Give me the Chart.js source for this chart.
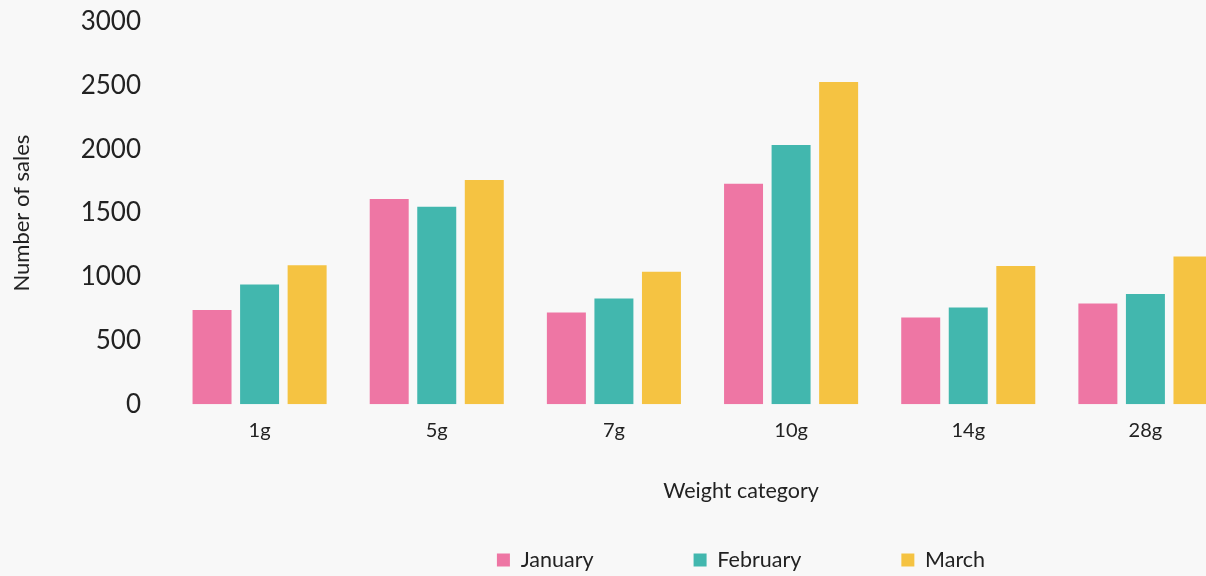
<!DOCTYPE html>
<html>
<head>
<meta charset="utf-8">
<title>Sales by weight category</title>
<script src="https://cdn.jsdelivr.net/npm/chart.js@4/dist/chart.umd.min.js"></script>
<style>
    html, body {
        margin: 0;
        padding: 0;
        background: #f8f8f8;
        overflow: hidden;
    }
    #wrap {
        width: 1482px;
        height: 576px;
    }
</style>
</head>
<body>
<div id="wrap"><canvas id="salesChart"></canvas></div>
<script>
// data
const categories = ['1g', '5g', '7g', '10g', '14g', '28g'];
const january = [740, 1610, 720, 1730, 680, 790];
const february = [940, 1550, 830, 2035, 760, 865];
const march = [1090, 1760, 1040, 2530, 1085, 1160];
const yTicks = [0, 500, 1000, 1500, 2000, 2500, 3000];

const textColor = '#222222';
const fontFamily = 'Lato, "Open Sans", sans-serif';

// legend items are spaced wide apart (big padding), which would also make the
// legend box very tall - so give it no height in the layout and stretch it
// down to the bottom of the canvas afterwards
const legendBelowTitle = {
    id: 'legendBelowTitle',
    afterLayout(chart) {
        const legend = chart.legend;
        if (!legend) return;
        legend.top = chart.scales.x.bottom;
        legend.bottom = chart.height;
        legend.height = legend.bottom - legend.top;
    }
};

const ctx = document.getElementById('salesChart').getContext('2d');

new Chart(ctx, {
    type: 'bar',
    data: {
        labels: categories,
        datasets: [
            { label: 'January', data: january, backgroundColor: '#EE76A4' },
            { label: 'February', data: february, backgroundColor: '#42B7AE' },
            { label: 'March', data: march, backgroundColor: '#F5C342' }
        ]
    },
    options: {
        responsive: true,
        maintainAspectRatio: false,
        animation: false,
        categoryPercentage: 0.805,
        barPercentage: 0.82,
        layout: {
            padding: { top: 0, left: 0, right: 0, bottom: 0 }
        },
        plugins: {
            legend: {
                position: 'bottom',
                maxHeight: 1,
                labels: {
                    boxWidth: 13,
                    boxHeight: 13,
                    padding: 100,
                    color: textColor,
                    font: { family: fontFamily, size: 21.5 }
                }
            },
            title: {
                display: true,
                text: 'Weight category',
                position: 'bottom',
                color: textColor,
                font: { family: fontFamily, size: 21.5, weight: 'normal' },
                padding: { top: 28, bottom: 72 }
            },
            tooltip: { enabled: false }
        },
        scales: {
            x: {
                grid: { display: false, drawTicks: false },
                border: { display: false },
                ticks: {
                    padding: 14,
                    color: textColor,
                    font: { family: fontFamily, size: 20 }
                },
                afterFit: scale => { scale.height = 45; }
            },
            y: {
                min: 0,
                max: 3000,
                grid: { display: false, drawTicks: false },
                border: { display: false },
                afterBuildTicks: scale => {
                    scale.ticks = yTicks.map(v => ({ value: v }));
                },
                ticks: {
                    padding: 30,
                    color: textColor,
                    font: { family: fontFamily, size: 26 },
                    callback: value => String(value)
                },
                title: {
                    display: true,
                    text: 'Number of sales',
                    color: textColor,
                    font: { family: fontFamily, size: 22 },
                    padding: { top: 9, bottom: 0 }
                },
                afterFit: scale => {
                    scale.width = 171;
                    // tick padding would otherwise be added above the top label too
                    scale.paddingTop = 22;
                    scale.paddingBottom = 0;
                }
            },
            // empty right axis, only there to push the plot past the window edge
            yRight: {
                type: 'linear',
                position: 'right',
                display: true,
                grid: { display: false, drawTicks: false },
                border: { display: false },
                ticks: { display: false },
                afterFit: scale => { scale.width = 248; }
            }
        }
    },
    plugins: [legendBelowTitle]
});
</script>
</body>
</html>
